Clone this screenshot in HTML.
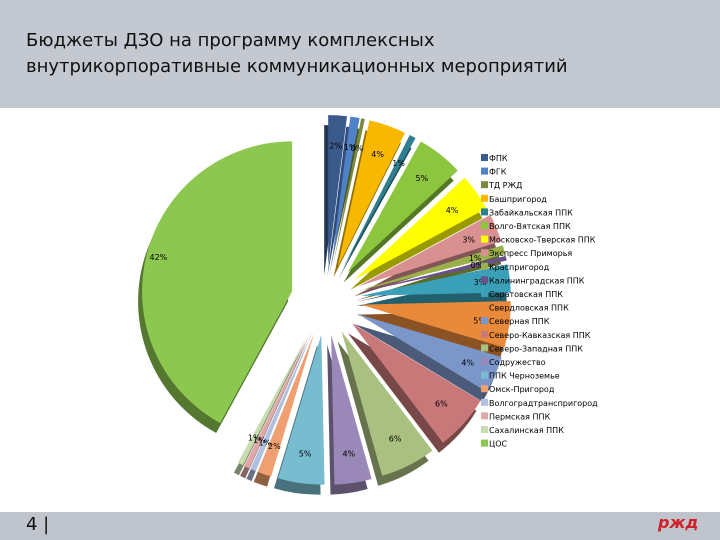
<!DOCTYPE html>
<html><head><meta charset="utf-8"><style>
body{margin:0;width:720px;height:540px;overflow:hidden;background:#fff;font-family:"DejaVu Sans","Liberation Sans",sans-serif;position:relative}
#hdr{position:absolute;left:0;top:0;width:720px;height:108px;background:#c4c8d0}
#title{position:absolute;left:26px;top:28px;font-size:18px;line-height:26px;color:#111}
#ftr{position:absolute;left:0;top:512px;width:720px;height:28px;background:#c0c4cc}
#pg{position:absolute;left:26px;top:514px;font-size:18px;color:#111}
#logo{position:absolute;left:658px;top:513px;font-size:16px;font-weight:bold;color:#d0202a;font-style:italic}
svg{position:absolute;left:0;top:0}
</style></head><body>
<div id="hdr"></div>
<div id="title">Бюджеты ДЗО на программу комплексных<br>внутрикорпоративные коммуникационных мероприятий</div>
<div id="ftr"></div>
<div id="pg">4 |</div>
<div id="logo">ржд</div>
<svg id="chart" width="720" height="540"></svg>
<script>
const categories=["ФПК","ФГК","ТД РЖД","Башпригород","Забайкальская ППК","Волго-Вятская ППК","Московско-Тверская ППК","Экспресс Приморья","Краспригород","Калининградская ППК","Саратовская ППК","Свердловская ППК","Северная ППК","Северо-Кавказская ППК","Северо-Западная ППК","Содружество","ППК Черноземье","Омск-Пригород","Волгоградтранспригород","Пермская ППК","Сахалинская ППК","ЦОС"];
const values=[2,1,0.4,4,0.7,5,4,3,1,0.5,3,5,4,6,6,4,5,1.5,0.6,0.6,0.6,42];
const labels=["2%","1%","0%","4%","1%","5%","4%","3%","1%","0%","3%","5%","4%","6%","6%","4%","5%","2%","1%","1%","1%","42%"];
const colors=["#3a5a8c","#4f81c8","#7a8a3c","#f8b800","#2f7f90","#8cc63f","#ffff00","#d89090","#9ab04a","#6a4f8a","#3aa0b8","#e88a3a","#7b96c8","#c87878","#aac080","#9a88b8","#78bcd0","#f0a070","#b0c0e0","#e0a8a8","#c8dcb0","#8cc850"];
const svg=document.getElementById('chart');const NS='http://www.w3.org/2000/svg';
const cx=326,cy=300,r=150,explode=35,depth=10;
const total=values.reduce((a,b)=>a+b,0);
function dark(h){const n=parseInt(h.slice(1),16);const f=v=>Math.round(v*0.6);return `rgb(${f(n>>16)},${f((n>>8)&255)},${f(n&255)})`;}
function arc(x,y,a0,a1){const p=a=>[x+r*Math.sin(a),y-r*Math.cos(a)];const s=p(a0),e=p(a1);const lg=(a1-a0)>Math.PI?1:0;return `M${x},${y}L${s[0]},${s[1]}A${r},${r} 0 ${lg} 1 ${e[0]},${e[1]}Z`;}
let acc=0;const sl=[];
values.forEach((v,i)=>{const a0=acc/total*2*Math.PI;acc+=v;const a1=acc/total*2*Math.PI;const m=(a0+a1)/2;const x=cx+explode*Math.sin(m),y=cy-explode*Math.cos(m);sl.push({a0,a1,m,x,y,i});});
const g1=document.createElementNS(NS,'g');svg.appendChild(g1);
sl.forEach(s=>{const p=document.createElementNS(NS,'path');p.setAttribute('d',arc(s.x-4,s.y+depth,s.a0,s.a1));p.setAttribute('fill',dark(colors[s.i]));


g1.appendChild(p);});
sl.forEach(s=>{const p=document.createElementNS(NS,'path');p.setAttribute('d',arc(s.x,s.y,s.a0,s.a1));p.setAttribute('fill',colors[s.i]);


svg.appendChild(p);});
sl.forEach(s=>{const t=document.createElementNS(NS,'text');const rr=s.i==21?0.92:0.8;t.setAttribute('x',s.x+rr*r*Math.sin(s.m));t.setAttribute('y',s.y-rr*r*Math.cos(s.m)+3);t.setAttribute('font-size','8');t.setAttribute('text-anchor','middle');t.setAttribute('font-family','DejaVu Sans, sans-serif');t.textContent=labels[s.i];


svg.appendChild(t);});
categories.forEach((c,i)=>{const y=160+i*13.6;const rc=document.createElementNS(NS,'rect');rc.setAttribute('x',481);rc.setAttribute('y',y-6);rc.setAttribute('width',7);rc.setAttribute('height',7);rc.setAttribute('fill',colors[i]);


svg.appendChild(rc);const t=document.createElementNS(NS,'text');t.setAttribute('x',489);t.setAttribute('y',y+1);t.setAttribute('font-size','8');t.setAttribute('font-family','DejaVu Sans, sans-serif');t.textContent=c;


svg.appendChild(t);});
</script>
</body></html>
